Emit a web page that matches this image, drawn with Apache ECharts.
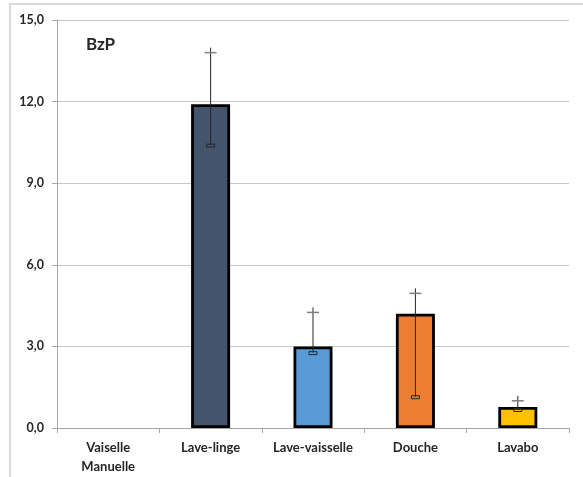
<!DOCTYPE html>
<html><head><meta charset="utf-8">
<script src="https://cdn.jsdelivr.net/npm/echarts@6/dist/echarts.min.js"></script>
<style>html,body{margin:0;padding:0;background:#fff;}#c{width:583px;height:477px;}</style>
</head><body><div id="c"></div>
<script>
const categories = ['Vaiselle\nManuelle', 'Lave-linge', 'Lave-vaisselle', 'Douche', 'Lavabo'];
const values = [0, 11.9, 3.0, 4.2, 0.77];
const errLow = [null, 10.4, 2.77, 1.15, 0.68];
const errHigh = [null, 13.8, 4.25, 4.95, 1.0];
const barColors = ['#44546a', '#44546a', '#5b9bd5', '#ed7d31', '#ffc000'];
const chartTitle = 'BzP';

const FONT = 'Lato, "Open Sans", sans-serif';
const chart = echarts.init(document.getElementById('c'), null, {renderer: 'canvas'});

const errData = categories.map((c, i) => errLow[i] == null ? null : [i, errLow[i], errHigh[i]]).filter(d => d);

chart.setOption({
  animation: false,
  backgroundColor: '#fff',
  title: {
    text: chartTitle, left: 81, top: 31,
    textStyle: {fontFamily: FONT, fontWeight: 'bold', fontSize: 17, color: '#262626'}
  },
  graphic: [{
    type: 'rect', silent: true,
    shape: {x: 10, y: 4, width: 620, height: 520},
    style: {fill: 'none', stroke: '#d9d9d9', lineWidth: 2}
  }],
  grid: {left: 57, right: 14, top: 20, bottom: 49, containLabel: false},
  xAxis: {
    type: 'category', data: categories,
    axisLine: {lineStyle: {color: '#a6a6a6', width: 1}},
    axisTick: {show: true, length: 5, lineStyle: {color: '#a6a6a6'}},
    axisLabel: {fontFamily: FONT, fontWeight: 'bold', fontSize: 13, color: '#262626', margin: 10, lineHeight: 19, interval: 0}
  },
  yAxis: {
    type: 'value', min: 0, max: 15, interval: 3,
    axisLine: {show: true, lineStyle: {color: '#a6a6a6'}},
    axisTick: {show: true, length: 5, lineStyle: {color: '#a6a6a6'}},
    splitLine: {lineStyle: {color: '#c8c8c8', width: 1}},
    axisLabel: {fontFamily: FONT, fontWeight: 'bold', fontSize: 12.5, color: '#262626', margin: 13,
      formatter: v => v.toFixed(1).replace('.', ',')}
  },
  series: [{
    type: 'bar', barWidth: 39,
    data: values.map((v, i) => ({value: v, itemStyle: {color: barColors[i], borderWidth: v > 0 ? 2.8 : 0}})),
    itemStyle: {borderColor: '#000', borderWidth: 2.8}
  }, {
    type: 'custom', data: errData, z: 10,
    renderItem: function (params, api) {
      const x = api.coord([api.value(0), 0])[0];
      const yl = api.coord([api.value(0), api.value(1)])[1];
      const yh = api.coord([api.value(0), api.value(2)])[1];
      return {
        type: 'group', children: [
          {type: 'line', shape: {x1: x, y1: yh - 5, x2: x, y2: yl}, style: {stroke: '#262626', lineWidth: 1}},
          {type: 'line', shape: {x1: x - 6, y1: yh, x2: x + 6, y2: yh}, style: {stroke: '#7f7f7f', lineWidth: 1.5}},
          {type: 'rect', shape: {x: x - 4, y: yl - 1, width: 8, height: 3}, style: {fill: 'none', stroke: '#262626', lineWidth: 1}}
        ]
      };
    }
  }]
});
</script></body></html>
